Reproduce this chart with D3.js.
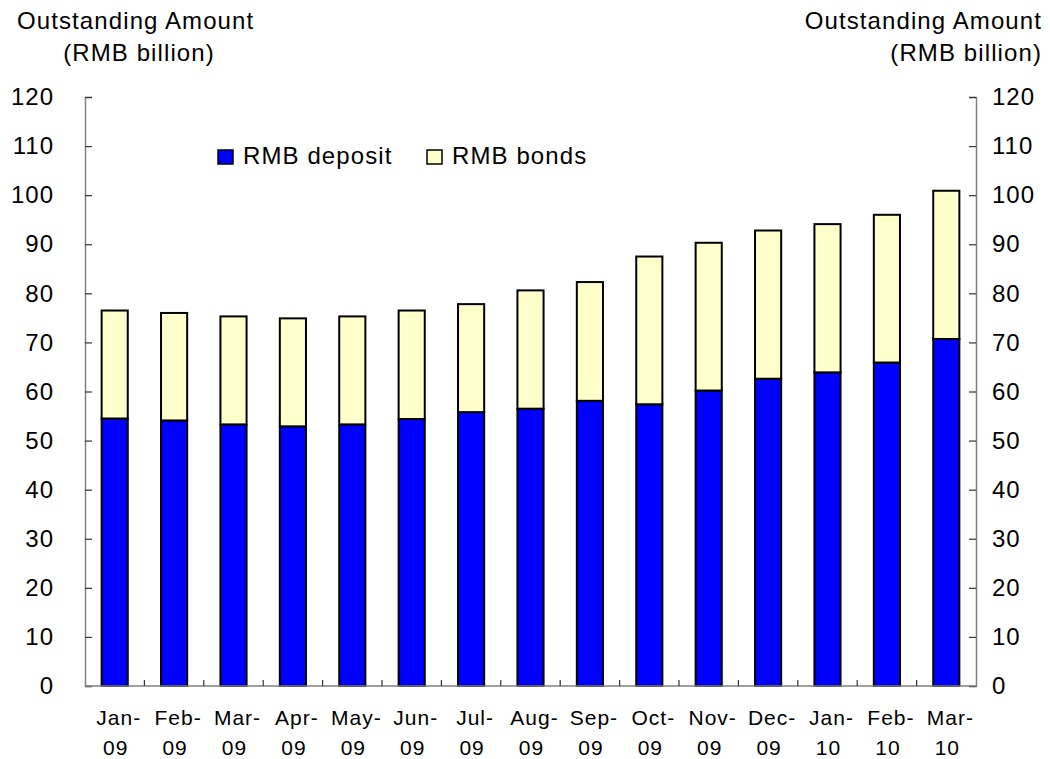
<!DOCTYPE html>
<html>
<head>
<meta charset="utf-8">
<script src="https://cdn.jsdelivr.net/npm/d3@7"></script>
<style>
  body { margin: 0; background: #fff; }
  svg text { font-family: Arial, "Liberation Sans", sans-serif; fill: #000; }
</style>
</head>
<body>
<div id="content"></div>
<script>
// Data
const months = ['Jan-|09', 'Feb-|09', 'Mar-|09', 'Apr-|09', 'May-|09', 'Jun-|09', 'Jul-|09', 'Aug-|09',
                'Sep-|09', 'Oct-|09', 'Nov-|09', 'Dec-|09', 'Jan-|10', 'Feb-|10', 'Mar-|10'];
const deposit = [54.5, 54.1, 53.3, 52.9, 53.3, 54.4, 55.8, 56.5, 58.1, 57.4, 60.2, 62.6, 63.9, 65.9, 70.7];
const bonds   = [22.0, 21.9, 22.0, 22.0, 22.0, 22.1, 22.0, 24.1, 24.2, 30.1, 30.1, 30.2, 30.2, 30.1, 30.2];
const yTicks = [0, 10, 20, 30, 40, 50, 60, 70, 80, 90, 100, 110, 120];
const seriesNames = ['RMB deposit', 'RMB bonds'];
const colors = ['#0000ff', '#ffffcc'];

const width = 1050, height = 759;
const margin = {top: 97, right: 74, bottom: 73, left: 85};
const innerW = width - margin.left - margin.right;
const innerH = height - margin.top - margin.bottom;

const svg = d3.select('#content').append('svg')
  .attr('width', width)
  .attr('height', height);

const g = svg.append('g').attr('transform', 'translate(' + margin.left + ',' + margin.top + ')');

const x = d3.scaleBand().domain(months).range([0, innerW]).paddingInner(0.56).paddingOuter(0.28);
const y = d3.scaleLinear().domain([0, 120]).range([innerH, 0]);

// stacked data
const rows = months.map((m, i) => ({month: m, deposit: deposit[i], bonds: bonds[i]}));
const stack = d3.stack().keys(['deposit', 'bonds'])(rows);

g.selectAll('.series')
  .data(stack)
  .enter()
  .append('g')
  .attr('fill', (d, i) => colors[i])
  .selectAll('rect')
  .data(d => d)
  .enter()
  .append('rect')
  .attr('x', d => x(d.data.month))
  .attr('width', x.bandwidth())
  .attr('y', d => y(d[1]))
  .attr('height', d => y(d[0]) - y(d[1]))
  .attr('stroke', '#000')
  .attr('stroke-width', 2);

// Axes
const axisColor = '#808080';
const left = g.append('g').call(d3.axisLeft(y).tickValues(yTicks).tickSize(-7).tickPadding(31));
const right = g.append('g').attr('transform', 'translate(' + innerW + ',0)')
  .call(d3.axisRight(y).tickValues(yTicks).tickSize(-7).tickPadding(16));
[left, right].forEach(a => {
  a.select('.domain').attr('stroke', axisColor).attr('stroke-width', 1.5);
  a.selectAll('.tick line').attr('stroke', '#333').attr('stroke-width', 1.2);
  a.selectAll('.tick text').attr('font-size', 24).attr('fill', '#000')
    .attr('letter-spacing', 1)
    .style('font-family', 'Arial, "Liberation Sans", sans-serif');
});

// x axis baseline and category separators
g.append('line')
  .attr('x1', 0).attr('x2', innerW)
  .attr('y1', innerH).attr('y2', innerH)
  .attr('stroke', axisColor).attr('stroke-width', 1.5);

const step = x.step();
const bounds = d3.range(1, months.length).map(i => x(months[i]) - step * x.paddingInner() / 2);
g.selectAll('.sep')
  .data(bounds)
  .enter()
  .append('line')
  .attr('x1', d => d).attr('x2', d => d)
  .attr('y1', innerH).attr('y2', innerH - 6)
  .attr('stroke', '#333').attr('stroke-width', 1.2);

// x labels, two lines
const xl = g.selectAll('.xlab')
  .data(months)
  .enter()
  .append('text')
  .attr('text-anchor', 'middle')
  .attr('font-size', 21)
  .attr('letter-spacing', 1)
  .attr('transform', d => 'translate(' + (x(d) + x.bandwidth() / 2) + ',' + (innerH + 39) + ')');
xl.append('tspan').attr('x', 4).attr('y', 0).text(d => d.split('|')[0]);
xl.append('tspan').attr('x', 1).attr('y', 30).text(d => d.split('|')[1]);

// axis titles
const titleFont = 24, titleSpacing = 1.1;
svg.append('text').attr('x', 17).attr('y', 29).attr('font-size', titleFont).attr('letter-spacing', titleSpacing)
  .text('Outstanding Amount');
svg.append('text').attr('x', 139).attr('y', 61).attr('font-size', titleFont).attr('letter-spacing', titleSpacing)
  .attr('text-anchor', 'middle').text('(RMB billion)');
svg.append('text').attr('x', 1042).attr('y', 29).attr('font-size', titleFont).attr('letter-spacing', titleSpacing)
  .attr('text-anchor', 'end').text('Outstanding Amount');
svg.append('text').attr('x', 1042).attr('y', 61).attr('font-size', titleFont).attr('letter-spacing', titleSpacing)
  .attr('text-anchor', 'end').text('(RMB billion)');

// legend
const legX = [218, 427];
const leg = svg.selectAll('.legend')
  .data(seriesNames)
  .enter()
  .append('g')
  .attr('transform', (d, i) => 'translate(' + legX[i] + ',150)');
leg.append('rect')
  .attr('width', 15).attr('height', 14)
  .attr('fill', (d, i) => colors[i])
  .attr('stroke', '#000').attr('stroke-width', 1.5);
leg.append('text')
  .attr('x', 25).attr('y', 14)
  .attr('font-size', 24)
  .attr('letter-spacing', 1.1)
  .text(d => d);
</script>
</body>
</html>
